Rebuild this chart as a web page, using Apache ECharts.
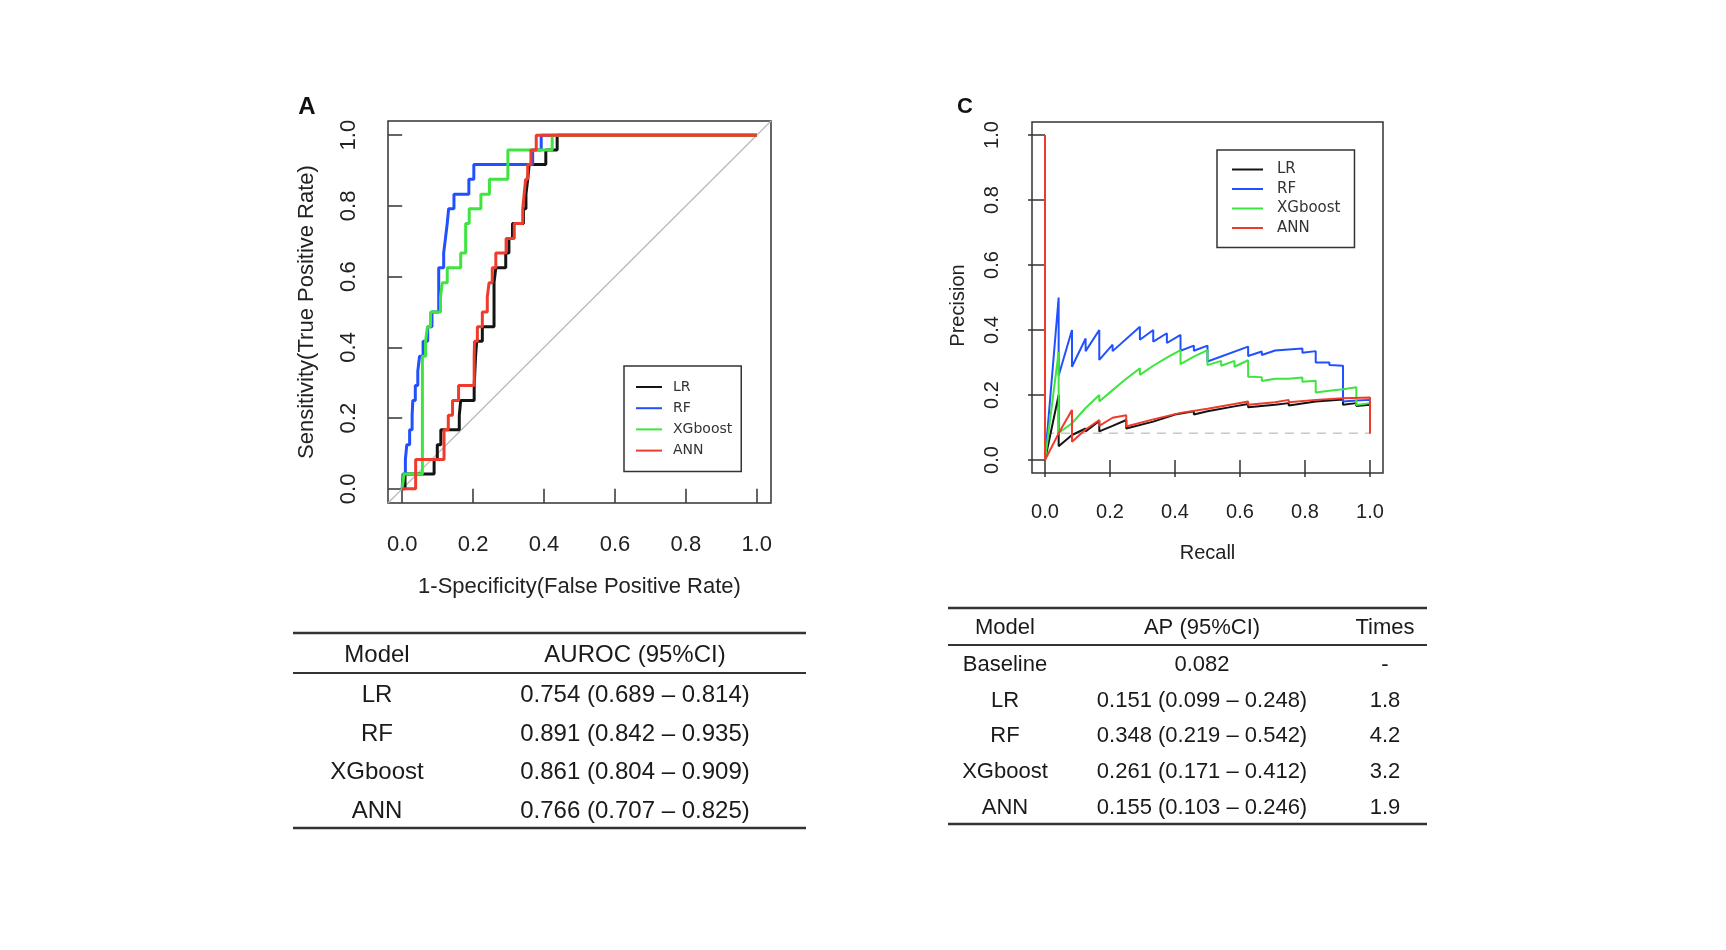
<!DOCTYPE html>
<html>
<head>
<meta charset="utf-8">
<title>ROC and PR curves</title>
<script src="https://cdn.jsdelivr.net/npm/echarts@6/dist/echarts.min.js"></script>
<style>
	html, body { margin: 0; padding: 0; background: #fff; }
	#plot { width: 1726px; height: 950px; }
</style>
</head>
<body>
<div id="plot"></div>
<script>
const modelNames = ['LR', 'RF', 'XGboost', 'ANN'];
const modelColors = ['#141414', '#2150ff', '#3fe43f', '#ee3b2b'];
const tickValues = [0, 0.2, 0.4, 0.6, 0.8, 1.0];

// ROC: TPR levels (24 positives) and the FPR at which each level is reached
const rocTpr = [0, 0.042, 0.083, 0.125, 0.167, 0.208, 0.25, 0.292, 0.333, 0.375, 0.417, 0.458, 0.5,
	0.542, 0.583, 0.625, 0.667, 0.708, 0.75, 0.792, 0.833, 0.875, 0.917, 0.958, 1, 1];
const rocFprLR = [0, 0.008, 0.090, 0.099, 0.109, 0.161, 0.165, 0.203, 0.205, 0.207, 0.210, 0.226, 0.259,
	0.259, 0.259, 0.264, 0.292, 0.301, 0.311, 0.342, 0.349, 0.354, 0.358, 0.405, 0.437, 1];
const rocFprRF = [0, 0.002, 0.009, 0.013, 0.021, 0.028, 0.030, 0.037, 0.044, 0.049, 0.059, 0.072, 0.084,
	0.103, 0.103, 0.103, 0.117, 0.122, 0.127, 0.131, 0.146, 0.188, 0.202, 0.368, 0.392, 1];
const rocFprXG = [0, 0.005, 0.057, 0.057, 0.057, 0.057, 0.057, 0.057, 0.057, 0.057, 0.066, 0.071, 0.080,
	0.108, 0.113, 0.127, 0.165, 0.179, 0.179, 0.189, 0.222, 0.246, 0.298, 0.298, 0.423, 1];
const rocFprANN = [0, 0.038, 0.038, 0.118, 0.118, 0.130, 0.142, 0.159, 0.203, 0.203, 0.204, 0.212, 0.226,
	0.240, 0.245, 0.254, 0.264, 0.293, 0.316, 0.340, 0.344, 0.348, 0.354, 0.363, 0.378, 1];

// precision-recall curves
const prRecallLR = [0, 0.042, 0.042, 0.083, 0.125, 0.125, 0.167, 0.167, 0.208, 0.25, 0.25, 0.333, 0.4, 0.458,
	0.458, 0.5, 0.583, 0.625, 0.625, 0.708, 0.75, 0.75, 0.833, 0.917, 0.917, 0.958, 0.958, 1, 1];
const prPrecisionLR = [0, 0.2, 0.042, 0.077, 0.097, 0.088, 0.12, 0.088, 0.105, 0.123, 0.097, 0.118, 0.14, 0.15,
	0.14, 0.15, 0.165, 0.172, 0.162, 0.17, 0.175, 0.168, 0.18, 0.186, 0.17, 0.175, 0.166, 0.17, 0.082];
const prRecallRF = [0, 0.042, 0.042, 0.083, 0.083, 0.125, 0.125, 0.167, 0.167, 0.208, 0.208, 0.292, 0.292, 0.333,
	0.333, 0.375, 0.375, 0.417, 0.417, 0.458, 0.458, 0.5, 0.5, 0.625, 0.625, 0.667, 0.667, 0.708, 0.708, 0.75,
	0.75, 0.792, 0.792, 0.833, 0.833, 0.875, 0.875, 0.917, 0.917, 0.958, 1, 1];
const prPrecisionRF = [0, 0.5, 0.26, 0.4, 0.287, 0.374, 0.335, 0.4, 0.308, 0.355, 0.335, 0.41, 0.37, 0.4,
	0.364, 0.39, 0.36, 0.385, 0.336, 0.352, 0.336, 0.352, 0.303, 0.349, 0.32, 0.334, 0.323, 0.337, 0.332, 0.34,
	0.334, 0.343, 0.33, 0.335, 0.3, 0.3, 0.292, 0.29, 0.18, 0.183, 0.185, 0.082];
const prRecallXG = [0, 0.042, 0.042, 0.083, 0.125, 0.167, 0.167, 0.208, 0.25, 0.292, 0.292, 0.333, 0.375, 0.417,
	0.417, 0.458, 0.5, 0.5, 0.542, 0.542, 0.583, 0.583, 0.625, 0.625, 0.667, 0.667, 0.708, 0.708, 0.75, 0.75,
	0.792, 0.792, 0.833, 0.833, 0.875, 0.875, 0.917, 0.958, 0.958, 1, 1];
const prPrecisionXG = [0, 0.333, 0.083, 0.113, 0.16, 0.2, 0.18, 0.215, 0.25, 0.282, 0.262, 0.29, 0.315, 0.338,
	0.295, 0.318, 0.338, 0.292, 0.305, 0.29, 0.305, 0.287, 0.307, 0.256, 0.255, 0.243, 0.25, 0.245, 0.25, 0.245,
	0.254, 0.241, 0.244, 0.208, 0.213, 0.21, 0.218, 0.224, 0.169, 0.175, 0.082];
const prRecallANN = [0, 0, 0.042, 0.083, 0.083, 0.125, 0.167, 0.167, 0.208, 0.25, 0.25, 0.333, 0.417, 0.5,
	0.583, 0.625, 0.625, 0.708, 0.75, 0.75, 0.833, 0.917, 1, 1];
const prPrecisionANN = [1, 0, 0.082, 0.154, 0.056, 0.094, 0.123, 0.105, 0.13, 0.138, 0.103, 0.125, 0.145, 0.158,
	0.172, 0.18, 0.17, 0.178, 0.185, 0.178, 0.185, 0.19, 0.192, 0.082];
const baselinePrecision = 0.082;

// tables
const aurocHeader = ['Model', 'AUROC (95%CI)'];
const aurocValues = ['0.754 (0.689 – 0.814)', '0.891 (0.842 – 0.935)', '0.861 (0.804 – 0.909)', '0.766 (0.707 – 0.825)'];
const apHeader = ['Model', 'AP (95%CI)', 'Times'];
const apModels = ['Baseline', 'LR', 'RF', 'XGboost', 'ANN'];
const apValues = ['0.082', '0.151 (0.099 – 0.248)', '0.348 (0.219 – 0.542)', '0.261 (0.171 – 0.412)', '0.155 (0.103 – 0.246)'];
const apTimes = ['-', '1.8', '4.2', '3.2', '1.9'];

const FONT = "'Liberation Sans', Arial, sans-serif";

function zip(xs, ys) {
	const points = [];
	for (let i = 0; i < Math.min(xs.length, ys.length); i++) {
		points.push([xs[i], ys[i]]);
	}
	return points;
}

function valueAxis(gridIndex, o) {
	return {
		type: 'value',
		gridIndex: gridIndex,
		min: -0.04,
		max: 1.04,
		name: o.name,
		nameLocation: 'middle',
		nameGap: o.nameGap,
		nameMoveOverlap: false,
		nameTextStyle: { fontFamily: FONT, fontSize: o.nameSize, color: '#222', padding: o.namePadding || 0 },
		splitLine: { show: false },
		axisLine: { show: false },
		axisTick: {
			show: true,
			customValues: tickValues,
			length: o.tickLength,
			lineStyle: { color: '#333', width: 1.5 }
		},
		axisLabel: {
			customValues: tickValues,
			formatter: (v) => v.toFixed(1),
			fontFamily: FONT,
			fontSize: o.labelSize,
			color: '#222',
			margin: o.labelMargin,
			rotate: o.rotate || 0
		}
	};
}

function legendFor(left, top, o) {
	return {
		orient: 'vertical',
		left: left,
		top: top,
		data: modelNames,
		icon: 'rect',
		itemWidth: o.itemWidth,
		itemHeight: 2,
		itemGap: o.itemGap,
		padding: o.padding,
		borderColor: '#333',
		borderWidth: 1.5,
		selectedMode: false,
		textStyle: {
			fontFamily: "'DejaVu Sans', sans-serif",
			fontSize: o.fontSize,
			color: '#333',
			padding: [0, 0, 0, o.textGap]
		}
	};
}

function tableGraphics(t) {
	const els = [];
	const rule = (y, w) => els.push({
		type: 'line',
		shape: { x1: t.x0, y1: y, x2: t.x1, y2: y },
		style: { stroke: '#333', lineWidth: w }
	});
	const cell = (text, x, y) => els.push({
		type: 'text',
		x: x,
		y: y,
		style: {
			text: text,
			fontFamily: FONT,
			fontSize: t.fontSize,
			fill: '#1a1a1a',
			align: 'center',
			verticalAlign: 'middle'
		}
	});
	rule(t.rules[0], 2.5);
	rule(t.rules[1], 2);
	rule(t.rules[2], 2.5);
	t.header.forEach((h, j) => cell(h, t.cols[j], t.headerY));
	t.columns.forEach((col, j) => {
		col.forEach((text, i) => cell(text, t.cols[j], t.rowY + i * t.rowStep));
	});
	return els;
}

function plot() {
	const rocFpr = [rocFprLR, rocFprRF, rocFprXG, rocFprANN];
	const prRecall = [prRecallLR, prRecallRF, prRecallXG, prRecallANN];
	const prPrecision = [prPrecisionLR, prPrecisionRF, prPrecisionXG, prPrecisionANN];

	const series = [
		{
			type: 'line',
			xAxisIndex: 0,
			yAxisIndex: 0,
			symbol: 'none',
			silent: true,
			lineStyle: { color: '#b8b8b8', width: 1.2 },
			data: [[-0.04, -0.04], [1.04, 1.04]]
		},
		{
			type: 'line',
			xAxisIndex: 1,
			yAxisIndex: 1,
			symbol: 'none',
			silent: true,
			lineStyle: { color: '#c8c8c8', width: 1.5, type: [9, 7] },
			data: [[0, baselinePrecision], [1, baselinePrecision]]
		}
	];
	modelNames.forEach((name, i) => {
		series.push({
			name: name,
			type: 'line',
			xAxisIndex: 0,
			yAxisIndex: 0,
			step: 'end',
			symbol: 'none',
			color: modelColors[i],
			lineStyle: { color: modelColors[i], width: 3 },
			data: zip(rocFpr[i], rocTpr)
		});
	});
	modelNames.forEach((name, i) => {
		series.push({
			name: name,
			type: 'line',
			xAxisIndex: 1,
			yAxisIndex: 1,
			symbol: 'none',
			color: modelColors[i],
			lineStyle: { color: modelColors[i], width: 2 },
			data: zip(prRecall[i], prPrecision[i])
		});
	});

	const graphic = [
		{
			type: 'text', x: 307, y: 107,
			style: { text: 'A', fontFamily: FONT, fontSize: 24, fontWeight: 'bold', fill: '#111', align: 'center', verticalAlign: 'middle' }
		},
		{
			type: 'text', x: 965, y: 107,
			style: { text: 'C', fontFamily: FONT, fontSize: 22, fontWeight: 'bold', fill: '#111', align: 'center', verticalAlign: 'middle' }
		}
	].concat(tableGraphics({
		x0: 293, x1: 806,
		rules: [633, 673, 828],
		header: aurocHeader,
		headerY: 655,
		columns: [modelNames, aurocValues],
		cols: [377, 635],
		rowY: 695,
		rowStep: 38.9,
		fontSize: 24
	})).concat(tableGraphics({
		x0: 948, x1: 1427,
		rules: [608, 645, 824],
		header: apHeader,
		headerY: 628,
		columns: [apModels, apValues, apTimes],
		cols: [1005, 1202, 1385],
		rowY: 665,
		rowStep: 35.7,
		fontSize: 22
	}));

	const option = {
		animation: false,
		backgroundColor: '#fff',
		grid: [
			{ left: 388, top: 121, width: 383, height: 382, show: true, borderColor: '#333', borderWidth: 1.5, outerBoundsMode: 'none' },
			{ left: 1032, top: 122, width: 351, height: 351, show: true, borderColor: '#333', borderWidth: 1.5, outerBoundsMode: 'none' }
		],
		xAxis: [
			valueAxis(0, { name: '1-Specificity(False Positive Rate)', nameGap: 73, nameSize: 22, tickLength: 14, labelSize: 22, labelMargin: 31 }),
			valueAxis(1, { name: 'Recall', nameGap: 70, nameSize: 20, tickLength: 17, labelSize: 20, labelMargin: 29 })
		],
		yAxis: [
			valueAxis(0, { name: 'Sensitivity(True Positive Rate)', nameGap: 70, nameSize: 22, tickLength: 14, labelSize: 22, labelMargin: 28, rotate: 90 }),
			valueAxis(1, { name: 'Precision', nameGap: 64, nameSize: 20, tickLength: 17, labelSize: 20, labelMargin: 30, rotate: 90, namePadding: [0, 16, 0, 0] })
		],
		legend: [
			legendFor(624, 366, { itemWidth: 26, itemGap: 7.2, padding: [14, 9, 14, 12], fontSize: 14, textGap: 6 }),
			legendFor(1217, 150, { itemWidth: 31, itemGap: 4.5, padding: [12, 14, 12, 15], fontSize: 15, textGap: 9 })
		],
		series: series,
		graphic: graphic
	};

	const box = document.getElementById('plot');
	const chart = echarts.init(box);
	chart.setOption(option);
	window.addEventListener('resize', () => {
		chart.resize();
	});
}

window.addEventListener('load', () => {
	plot();
});
</script>
</body>
</html>
